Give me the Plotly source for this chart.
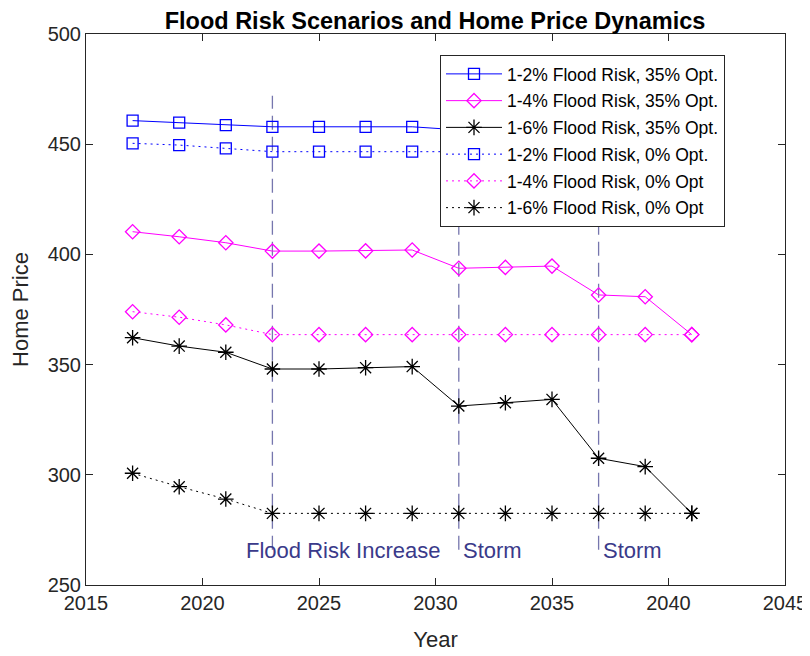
import plotly.graph_objects as go

years = [2017, 2019, 2021, 2023, 2025, 2027, 2029, 2031, 2033, 2035, 2037, 2039, 2041]

blue_35 = [460.7, 459.8, 458.7, 457.9, 457.9, 457.9, 457.9, 456.5, 456.5, 456.5, 452.0, 452.0, 446.6]
magenta_35 = [410.3, 408.0, 405.3, 401.5, 401.5, 401.6, 402.0, 393.7, 394.1, 394.7, 381.6, 380.8, 363.6]
black_35 = [362.2, 358.4, 355.6, 348.0, 348.0, 348.6, 349.1, 331.2, 332.7, 334.2, 307.5, 303.7, 282.5]
blue_0 = [450.4, 449.6, 448.1, 446.6, 446.6, 446.6, 446.6, 446.6, 446.6, 446.6, 446.6, 446.6, 446.6]
magenta_0 = [374.0, 371.5, 368.0, 363.6, 363.6, 363.6, 363.6, 363.6, 363.6, 363.6, 363.6, 363.6, 363.6]
black_0 = [300.7, 294.6, 289.0, 282.5, 282.5, 282.5, 282.5, 282.5, 282.5, 282.5, 282.5, 282.5, 282.5]

series_names = [
    "1-2% Flood Risk, 35% Opt.",
    "1-4% Flood Risk, 35% Opt.",
    "1-6% Flood Risk, 35% Opt.",
    "1-2% Flood Risk, 0% Opt.",
    "1-4% Flood Risk, 0% Opt",
    "1-6% Flood Risk, 0% Opt",
]

event_years = [2023, 2031, 2037]
event_labels = ["Flood Risk Increase", "Storm", "Storm"]
event_label_x = [2021.8, 2031.1, 2037.1]
event_line_range = [266, 472]
event_label_y = 265.5

x_ticks = [2015, 2020, 2025, 2030, 2035, 2040, 2045]
y_ticks = [250, 300, 350, 400, 450, 500]

FONT = "Liberation Sans, Arial, sans-serif"
TXT = "#262626"
EV = "rgba(60,60,140,0.7)"

# page has an 8px body margin; figure sized to fit the 810x656 window
W, H = 802, 648
L, T = 78, 26
PW, PH = 699, 551

fig = go.Figure()

series = [blue_35, magenta_35, black_35, blue_0, magenta_0, black_0]
colors = ["#0000ff", "#ff00ff", "#000000", "#0000ff", "#ff00ff", "#000000"]
symbols = ["square-open", "diamond-open", "asterisk-open"] * 2
sizes = [11, 11, 13, 11, 11, 13]
dashes = ["solid"] * 3 + ["2px,4px"] * 3

for yr in event_years:
    fig.add_trace(go.Scatter(
        x=[yr, yr], y=event_line_range, mode="lines",
        line=dict(color=EV, width=1.3, dash="14px,7px"),
        showlegend=False, hoverinfo="skip"))

for i, (name, vals) in enumerate(zip(series_names, series)):
    fig.add_trace(go.Scatter(
        x=years, y=vals, name=name, mode="lines+markers",
        legendgroup=f"g{i}",
        line=dict(color=colors[i], width=1, dash=dashes[i]),
        marker=dict(symbol=symbols[i], size=sizes[i], color=colors[i],
                    line=dict(color=colors[i], width=1.3)),
    ))

for x, lab in zip(event_label_x, event_labels):
    fig.add_annotation(x=x, y=event_label_y, xref="x", yref="y", text=lab,
                       showarrow=False, xanchor="left", yanchor="middle",
                       font=dict(family=FONT, size=22, color="#3a3a8a"))

axis_common = dict(
    showgrid=False, zeroline=False, showline=True, linecolor=TXT, linewidth=1,
    mirror="ticks", ticks="inside", ticklen=7, tickcolor=TXT, automargin=False,
    tickfont=dict(family=FONT, size=20, color=TXT),
)

fig.update_layout(
    width=W, height=H,
    margin=dict(l=L, r=W - L - PW, t=T, b=H - T - PH),
    paper_bgcolor="white", plot_bgcolor="white",
    title=dict(text="<b>Flood Risk Scenarios and Home Price Dynamics</b>",
               x=427 / W, xanchor="center", y=1 - 13 / H, yanchor="middle",
               font=dict(family=FONT, size=23.5, color="#000000")),
    xaxis=dict(range=[2015, 2045], tickvals=x_ticks,
               title=dict(text="Year", font=dict(family=FONT, size=22, color=TXT), standoff=18),
               **axis_common),
    yaxis=dict(range=[250, 500], tickvals=y_ticks,
               title=dict(text="Home Price", font=dict(family=FONT, size=22, color=TXT), standoff=12),
               **axis_common),
    legend=dict(x=(432 - L) / PW, y=1 - (47 - T) / PH, xanchor="left", yanchor="top",
                bgcolor="white", bordercolor=TXT, borderwidth=1,
                font=dict(family=FONT, size=17.5, color="#000000"),
                itemwidth=56,
                traceorder="grouped", tracegroupgap=1),
    showlegend=True,
)

fig.write_html("out.html")
